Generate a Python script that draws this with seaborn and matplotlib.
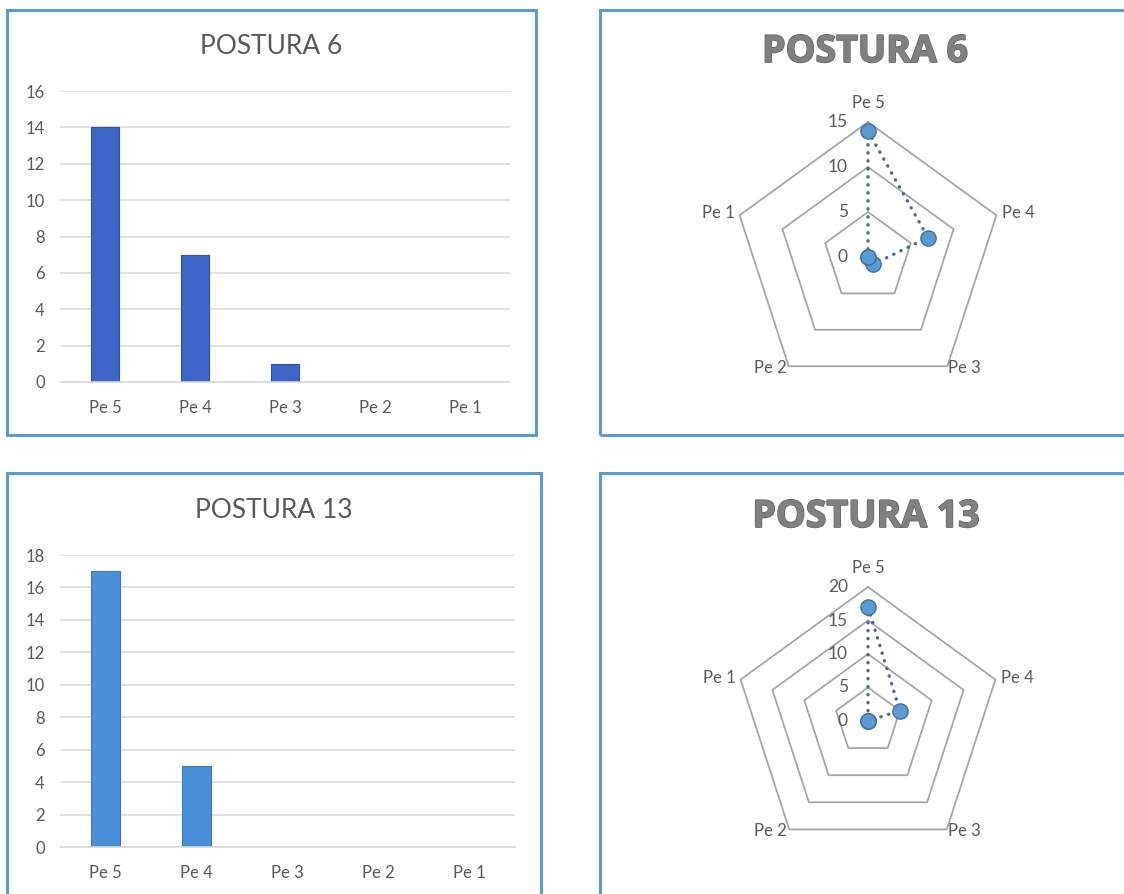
"""
plot.py
Bar + radar charts for POSTURA 6 and POSTURA 13.
"""

import numpy as np
import matplotlib
matplotlib.use("Agg")
import matplotlib.pyplot as plt
import matplotlib.patheffects as pe
from matplotlib.patches import Rectangle
import seaborn as sns

# ------------------------------------------------------------
# Data
# ------------------------------------------------------------
categories = ["Pe 5", "Pe 4", "Pe 3", "Pe 2", "Pe 1"]
postura6 = [14, 7, 1, 0, 0]
postura13 = [17, 5, 0, 0, 0]

bar_yticks_6 = list(range(0, 17, 2))
bar_yticks_13 = list(range(0, 19, 2))
radar_rings_6 = [0, 5, 10, 15]
radar_rings_13 = [0, 5, 10, 15, 20]

W, H = 1124, 894
sns.set_theme(style="white")
plt.rcParams["font.family"] = ["Lato", "DejaVu Sans"]

fig = plt.figure(figsize=(W / 100, H / 100), dpi=100)
fig.patch.set_facecolor("white")

TEXT = "#595959"
GRID = "#d9d9d9"
BORDER = "#5b9bd5"


def px_rect(left, top, right, bottom):
    """pixel box (from top-left) -> figure fraction rect"""
    return [left / W, 1 - bottom / H, (right - left) / W, (bottom - top) / H]


def panel_border(left, top, right, bottom):
    fig.patches.append(Rectangle((left / W, 1 - bottom / H), (right - left) / W,
                                 (bottom - top) / H, transform=fig.transFigure,
                                 fill=False, edgecolor=BORDER, linewidth=2.2,
                                 zorder=0))


def bar_panel(rect, values, yticks, color, edge, title, title_xy):
    ax = fig.add_axes(rect)
    sns.barplot(x=categories, y=values, color=color, width=0.31,
                edgecolor=edge, linewidth=0.8, saturation=1, ax=ax)
    for p in ax.patches:
        if p.get_height() == 0:
            p.set_visible(False)
    ax.set_ylim(yticks[0], yticks[-1])
    ax.set_xlim(-0.5, len(categories) - 0.5)
    ax.set_yticks(yticks)
    ax.yaxis.grid(True, color=GRID, linewidth=1.1)
    ax.set_axisbelow(True)
    for s in ["top", "right", "left"]:
        ax.spines[s].set_visible(False)
    ax.spines["bottom"].set_color(GRID)
    ax.spines["bottom"].set_linewidth(1.1)
    ax.tick_params(axis="both", length=0, labelsize=12, colors=TEXT)
    ax.tick_params(axis="y", pad=11)
    ax.tick_params(axis="x", pad=13)
    ax.set_xlabel("")
    ax.set_ylabel("")
    ax.set_facecolor("none")
    fig.text(title_xy[0] / W, 1 - title_xy[1] / H, title, ha="center",
             va="center", fontsize=19, color=TEXT)


def radar_panel(center, radius_px, values, rings, title, title_xy):
    half = 175
    ax = fig.add_axes(px_rect(center[0] - half, center[1] - half,
                              center[0] + half, center[1] + half))
    lim = half / radius_px * rings[-1]
    ax.set_xlim(-lim, lim)
    ax.set_ylim(-lim, lim)
    ax.set_aspect("equal")
    ax.axis("off")

    n = len(categories)
    ang = np.arange(n) * 2 * np.pi / n
    sx, sy = np.sin(ang), np.cos(ang)

    # pentagon rings
    for r in rings[1:]:
        ax.plot(np.append(r * sx, r * sx[0]), np.append(r * sy, r * sy[0]),
                color="#a6a6a6", linewidth=1.3, zorder=1)

    # ring value labels
    for r in rings:
        ax.annotate(str(r), xy=(0, r), xytext=(-20, 0), textcoords="offset pixels",
                    ha="right", va="center", fontsize=12.5, color=TEXT)

    # category labels
    R = rings[-1]
    offs = [(0, 19, "center"), (6, 2, "left"), (1, -2, "left"),
            (-2, -2, "right"), (-5, 2, "right")]
    for i, lab in enumerate(categories):
        dx, dy, ha = offs[i]
        ax.annotate(lab, xy=(R * sx[i], R * sy[i]), xytext=(dx, dy),
                    textcoords="offset pixels", ha=ha, va="center",
                    fontsize=12, color=TEXT)

    # data series
    v = np.array(values, dtype=float)
    xs, ys = v * sx, v * sy
    ax.plot(np.append(xs, xs[0]), np.append(ys, ys[0]), color="#4d6a8f",
            linewidth=2.4, linestyle=(0, (0.1, 2.3)), dash_capstyle="round",
            zorder=2)
    sns.scatterplot(x=xs, y=ys, s=120, color="#5b9bd5", edgecolor="#41719c",
                    linewidth=1, zorder=3, ax=ax, legend=False)

    t = fig.text(title_xy[0] / W, 1 - title_xy[1] / H, title, ha="center",
                 va="center", fontsize=27, fontweight="bold", color="#808080",
                 family=["Open Sans", "DejaVu Sans"])
    t.set_path_effects([pe.withStroke(linewidth=1.2, foreground="#606060"),
                        pe.Normal()])


# panel frames
panel_border(7, 10, 536, 435)
panel_border(600, 10, 1130, 435)
panel_border(7, 473, 541, 900)
panel_border(600, 473, 1130, 900)

# ------------------------------------------------------------
# POSTURA 6
# ------------------------------------------------------------
bar_panel(px_rect(60, 91, 510, 382), postura6, bar_yticks_6,
          "#3d66c8", "#2f52a8", "POSTURA 6", (271, 47))
radar_panel((868, 257), 135, postura6, radar_rings_6, "POSTURA 6", (865, 52))

# ------------------------------------------------------------
# POSTURA 13
# ------------------------------------------------------------
bar_panel(px_rect(60, 555, 515, 847), postura13, bar_yticks_13,
          "#4a90d9", "#3a78b8", "POSTURA 13", (274, 511))
radar_panel((868, 721), 134, postura13, radar_rings_13, "POSTURA 13", (866, 517))

plt.savefig("out.png", dpi=100, facecolor="white")
plt.close()
